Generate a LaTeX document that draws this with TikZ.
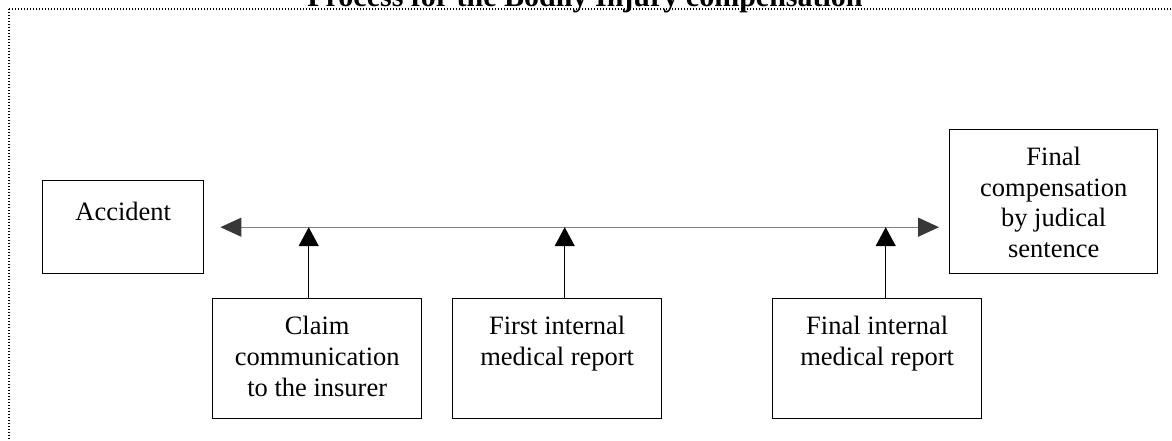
\documentclass[tikz,border=0pt]{standalone}
\usepackage{fontspec}
\setmainfont{Liberation Serif}
\usetikzlibrary{arrows.meta}
\newcommand\boxtext[4]{\parbox[t][#2pt][t]{#1pt}{\centering\rule{0pt}{#3pt}#4}}
\begin{document}
\begin{tikzpicture}[x=1pt,y=-1pt,
  box/.style={draw, line width=1.4pt, inner sep=0pt, anchor=north west,
    font=\fontsize{26.5}{31}\selectfont},
  hline/.style={draw=gray, line width=1.3pt,
    {Triangle[length=21pt,width=19pt,color=black!78]}-{Triangle[length=21pt,width=19pt,color=black!78]}},
  varrow/.style={draw=black, line width=1.5pt, -{Triangle[length=19pt,width=20pt]}},
  frame/.style={line width=1.3pt, dash pattern=on 1.3pt off 1.7pt},
  titlefont/.style={font=\bfseries\fontsize{30}{36}\selectfont}]
\clip (0,0) rectangle (1172,441);
\draw[frame] (9,9) rectangle (1200,470);
\node[titlefont, anchor=base, inner sep=0pt] (title) at (585,7) {Process for the Bodily Injury compensation};
\node[box] (acc) at (42,180) {\boxtext{161}{93}{40}{Accident}};
\node[box, font=\fontsize{26.5}{30.5}\selectfont] (fin) at (949,129) {\boxtext{208}{144}{36}{Final\\compensation\\by judical\\sentence}};
\node[box] (claim) at (212,298) {\boxtext{209}{120}{36}{Claim\\communication\\to the insurer}};
\node[box] (first) at (452,298) {\boxtext{209}{120}{36}{First internal\\medical report}};
\node[box] (final) at (772,298) {\boxtext{209}{120}{36}{Final internal\\medical report}};
\draw[hline, shorten <=16pt, shorten >=10pt] (acc.east) -- (acc.east -| fin.west);
\draw[varrow] ([xshift=-8.5pt]claim.north) -- ([xshift=-8.5pt]claim.north |- acc.east);
\draw[varrow] ([xshift=7.5pt]first.north) -- ([xshift=7.5pt]first.north |- acc.east);
\draw[varrow] ([xshift=8.5pt]final.north) -- ([xshift=8.5pt]final.north |- acc.east);
\end{tikzpicture}
\end{document}
